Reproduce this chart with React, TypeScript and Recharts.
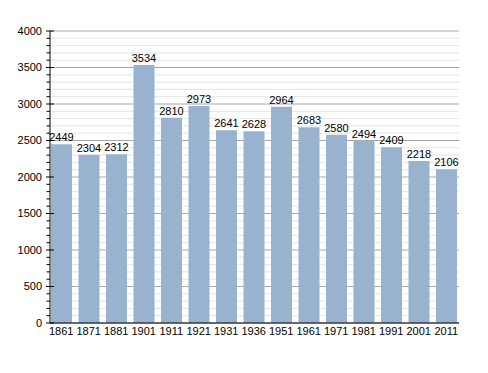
import React from "react";
import { BarChart, Bar, XAxis, YAxis, CartesianGrid, LabelList } from "recharts";

const years = ["1861", "1871", "1881", "1901", "1911", "1921", "1931", "1936", "1951", "1961", "1971", "1981", "1991", "2001", "2011"];
const population = [2449, 2304, 2312, 3534, 2810, 2973, 2641, 2628, 2964, 2683, 2580, 2494, 2409, 2218, 2106];
const majorTicks = [0, 500, 1000, 1500, 2000, 2500, 3000, 3500, 4000];
// minor ticks every 100 between the major ones
const allTicks = Array.from({ length: 41 }, (_, i) => i * 100);

const data = years.map((year, i) => ({ year, value: population[i] }));

const font = "'Liberation Sans', Arial, sans-serif";

function YTick(props: any) {
  const { x, y, payload } = props;
  const major = majorTicks.includes(payload.value);
  return (
    <g>
      <line x1={major ? x - 4 : x - 3.5} x2={major ? x + 4 : x} y1={y} y2={y} stroke="#000" />
      {major && (
        <text x={x - 8} y={y} dy="0.35em" textAnchor="end" fontSize={11} fontFamily={font} fill="#000">
          {payload.value}
        </text>
      )}
    </g>
  );
}

function GridLine(props: any) {
  const { x1, x2, y1, index } = props;
  const major = index % 5 === 0;
  return <line x1={x1} x2={x2} y1={y1} y2={y1} stroke={major ? "#a8a8a8" : "#e4e4e4"} strokeWidth={1} />;
}

export default function App() {
  return (
    <BarChart
      width={480}
      height={360}
      data={data}
      margin={{ top: 23, right: 29, bottom: 15, left: 0 }}
      barCategoryGap={3.5}
    >
      <CartesianGrid vertical={false} horizontal={GridLine as any} />
      <XAxis
        dataKey="year"
        height={30}
        padding={{ left: -2.5, right: -1 }}
        tickLine={false}
        tickSize={0}
        tickMargin={4}
        axisLine={{ stroke: "#000" }}
        tick={{ fontSize: 11, fontFamily: font, fill: "#000" }}
        interval={0}
      />
      <YAxis
        width={42}
        domain={[0, 4000]}
        ticks={allTicks}
        interval={0}
        tickLine={false}
        tickSize={0}
        tickMargin={0}
        axisLine={{ stroke: "#000" }}
        tick={<YTick />}
      />
      <Bar dataKey="value" fill="#98b2cf" isAnimationActive={false}>
        <LabelList dataKey="value" position="top" offset={3} fontSize={11} fontFamily={font} fill="#000" />
      </Bar>
    </BarChart>
  );
}
